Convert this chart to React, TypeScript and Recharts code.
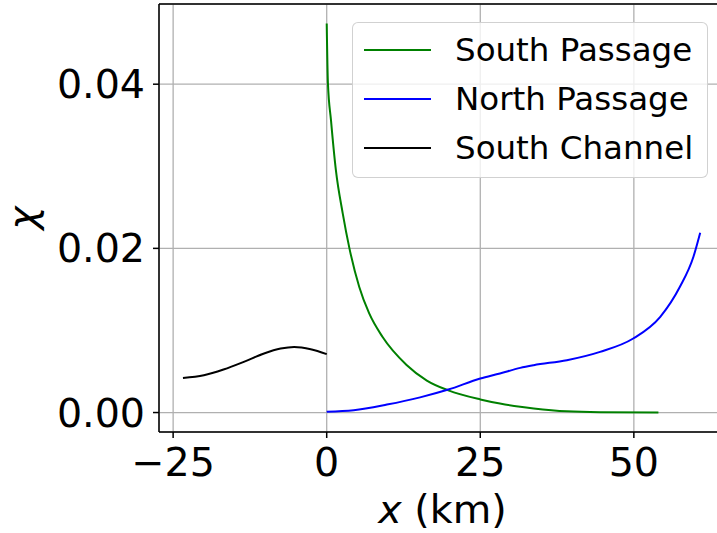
import React from 'react';
import { LineChart, Line, XAxis, YAxis, CartesianGrid, Legend, ReferenceLine, Label } from 'recharts';

const FONT = '"DejaVu Sans", sans-serif';

// South Passage: distance (km) and chi
const southPassageKm = [0, 0.2, 0.7, 1.5, 2.6, 3.7, 5.3, 6.9, 9.1, 13, 16.3, 19.8, 25, 28.2, 31.5, 33.7, 39.1, 44.5, 54];
const southPassageChi = [
  0.0474, 0.0401, 0.0356, 0.0295, 0.0243, 0.02, 0.0153, 0.0121, 0.0092, 0.0058, 0.0039, 0.0027, 0.0016, 0.0011,
  0.0007, 0.0005, 0.00015, 0.00004, 0,
];

// North Passage
const northPassageKm = [0, 4.4, 9.8, 15.2, 19.8, 25, 28.2, 31.5, 33.7, 39.1, 44.5, 49.9, 54.3, 57.5, 59.7, 60.8];
const northPassageChi = [
  0.0001, 0.00028, 0.00097, 0.00185, 0.0028, 0.00415, 0.00476, 0.00544, 0.00577, 0.00638, 0.00739, 0.00902,
  0.01166, 0.01532, 0.01898, 0.0219,
];

// South Channel (upstream of the junction, negative x)
const southChannelKm = [-23.4, -20, -16.8, -13.5, -10.2, -7.5, -5.3, -2.6, 0];
const southChannelChi = [0.00422, 0.00455, 0.00524, 0.00617, 0.0072, 0.0078, 0.008, 0.00772, 0.00711];

const xTicks = [-25, 0, 25, 50];
const yTicks = [0, 0.02, 0.04];
const xDomain = [-27.3, 65];
const yDomain = [-0.00237, 0.04977];

const series = [
  { name: 'South Passage', color: '#008000', km: southPassageKm, chi: southPassageChi },
  { name: 'North Passage', color: '#0000ff', km: northPassageKm, chi: northPassageChi },
  { name: 'South Channel', color: '#000000', km: southChannelKm, chi: southChannelChi },
];

const toRows = (km: number[], chi: number[]) => km.map((x, i) => ({ x, chi: chi[i] }));

const LegendBox = () => (
  <div
    style={{
      width: 356,
      height: 156,
      boxSizing: 'border-box',
      border: '1.3px solid rgba(204,204,204,0.9)',
      borderRadius: 6,
      background: 'rgba(255,255,255,0.8)',
      fontFamily: FONT,
      fontSize: 32.5,
      color: '#000',
      position: 'relative',
    }}
  >
    {series.map((s, i) => (
      <div key={s.name} style={{ position: 'absolute', left: 0, top: 26.5 + i * 49.3 - 20, height: 40, display: 'flex', alignItems: 'center' }}>
        <div style={{ marginLeft: 11, width: 67, height: 2, background: s.color }} />
        <span style={{ marginLeft: 24, whiteSpace: 'nowrap', lineHeight: '40px' }}>{s.name}</span>
      </div>
    ))}
  </div>
);

export default function App() {
  return (
    <div style={{ position: 'absolute', left: 0, top: 0, width: 717, height: 533, overflow: 'hidden', background: '#fff' }}>
      <LineChart width={740} height={533} margin={{ top: 4, right: 14, bottom: 0, left: 0 }}>
        <CartesianGrid stroke="#b0b0b0" strokeWidth={1.3} />
        <XAxis
          type="number"
          dataKey="x"
          domain={xDomain}
          ticks={xTicks}
          allowDataOverflow
          height={101}
          axisLine={{ stroke: '#000', strokeWidth: 1.5 }}
          tickLine={{ stroke: '#000', strokeWidth: 1.5 }}
          tickSize={6}
          tickMargin={10}
          tick={{ fontSize: 39.6, fill: '#000', fontFamily: FONT }}
          tickFormatter={(v: number) => String(v).replace('-', '\u2212')}
          label={
            <Label
              content={({ viewBox }: any) => (
                <text x={viewBox.x + viewBox.width / 2} y={523} textAnchor="middle" fontSize={39.6} fontFamily={FONT} fill="#000">
                  <tspan fontStyle="italic">x</tspan> (km)
                </text>
              )}
            />
          }
        />
        <YAxis
          type="number"
          domain={yDomain}
          ticks={yTicks}
          allowDataOverflow
          width={159}
          axisLine={{ stroke: '#000', strokeWidth: 1.5 }}
          tickLine={{ stroke: '#000', strokeWidth: 1.5 }}
          tickSize={6}
          tickMargin={8}
          tick={{ fontSize: 39.6, fill: '#000', fontFamily: FONT }}
          tickFormatter={(v: number) => v.toFixed(2)}
          label={
            <Label
              content={({ viewBox }: any) => {
                const cy = viewBox.y + viewBox.height / 2;
                return (
                  <text x={36} y={cy} transform={`rotate(-90, 36, ${cy})`} textAnchor="middle" fontSize={39.6} fontStyle="italic" fontFamily={FONT} fill="#000">
                    χ
                  </text>
                );
              }}
            />
          }
        />
        <ReferenceLine y={yDomain[1]} stroke="#000" strokeWidth={1.5} />
        {series.map((s) => (
          <Line
            key={s.name}
            data={toRows(s.km, s.chi)}
            dataKey="chi"
            name={s.name}
            type="monotone"
            stroke={s.color}
            strokeWidth={2}
            dot={false}
            isAnimationActive={false}
          />
        ))}
        <Legend
          layout="vertical"
          align="center"
          verticalAlign="middle"
          content={() => <LegendBox />}
          wrapperStyle={{ position: 'absolute', left: 352, top: 22, width: 356, height: 156 }}
        />
      </LineChart>
    </div>
  );
}
